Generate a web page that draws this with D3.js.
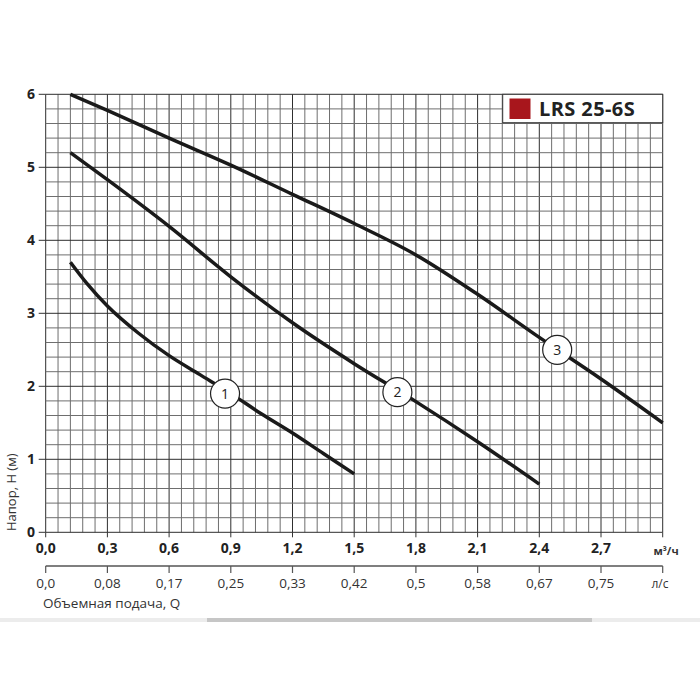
<!DOCTYPE html>
<html>
<head>
<meta charset="utf-8">
<script src="https://cdn.jsdelivr.net/npm/d3@7"></script>
<style>
  body { margin: 0; background: #fff; }
  text { font-family: "Open Sans", "Noto Sans", sans-serif; }
</style>
</head>
<body>
<div id="chart"></div>
<script>
// pump curves LRS 25-6S, Q in m3/h, H in m
var curve1Q = [0.12, 0.2, 0.3, 0.45, 0.6, 0.75, 0.9, 1.05, 1.2, 1.35, 1.5];
var curve1H = [3.7, 3.41, 3.1, 2.73, 2.42, 2.16, 1.9, 1.62, 1.36, 1.08, 0.8];
var curve2Q = [0.12, 0.3, 0.6, 0.9, 1.2, 1.5, 1.8, 2.1, 2.4];
var curve2H = [5.2, 4.83, 4.19, 3.5, 2.87, 2.31, 1.79, 1.24, 0.66];
var curve3Q = [0.12, 0.3, 0.6, 0.9, 1.2, 1.5, 1.8, 2.1, 2.4, 2.7, 3.0];
var curve3H = [6.0, 5.78, 5.4, 5.03, 4.63, 4.23, 3.8, 3.26, 2.67, 2.1, 1.5];

// numbered circle labels on curves
var labelNames = ["1", "2", "3"];
var labelQ = [0.872, 1.71, 2.487];
var labelH = [1.9, 1.92, 2.5];

var m3hTicks = [0, 0.3, 0.6, 0.9, 1.2, 1.5, 1.8, 2.1, 2.4, 2.7];
var lsLabels = ["0,0", "0,08", "0,17", "0,25", "0,33", "0,42", "0,5", "0,58", "0,67", "0,75"];
var hTicks = [0, 1, 2, 3, 4, 5, 6];
var modelName = "LRS 25-6S";

var width = 700, height = 700;

var svg = d3.select("#chart")
    .append("svg")
    .attr("width", width)
    .attr("height", height);

var x = d3.scaleLinear().domain([0, 3]).range([45.7, 662.7]);
var y = d3.scaleLinear().domain([0, 6]).range([532.3, 94.3]);

// grid - minor lines every 0.06 m3/h and 0.2 m
var minorX = d3.range(0, 51).map(d => d * 0.06);
var minorY = d3.range(0, 31).map(d => d * 0.2);

var grid = svg.append("g");
grid.selectAll(".vx")
    .data(minorX)
    .enter().append("line")
    .attr("x1", d => x(d)).attr("x2", d => x(d))
    .attr("y1", y(6)).attr("y2", y(0))
    .attr("stroke", d => Math.abs(d / 0.3 - Math.round(d / 0.3)) < 1e-6 ? "#2e2e2e" : "#6e6e6e")
    .attr("stroke-width", 1);
grid.selectAll(".hy")
    .data(minorY)
    .enter().append("line")
    .attr("x1", x(0)).attr("x2", x(3))
    .attr("y1", d => y(d)).attr("y2", d => y(d))
    .attr("stroke", d => Math.abs(d - Math.round(d)) < 1e-6 ? "#2e2e2e" : "#6e6e6e")
    .attr("stroke-width", 1);

// y axis ticks and labels
svg.selectAll(".ytick")
    .data(hTicks)
    .enter().append("line")
    .attr("x1", x(0) - 7).attr("x2", x(0))
    .attr("y1", d => y(d)).attr("y2", d => y(d))
    .attr("stroke", "#333");
svg.selectAll(".ylab")
    .data(hTicks)
    .enter().append("text")
    .attr("x", 35)
    .attr("y", d => y(d) + 5)
    .attr("text-anchor", "end")
    .attr("font-size", 14)
    .attr("font-weight", "bold")
    .attr("fill", "#222")
    .text(d => d);

svg.append("text")
    .attr("transform", "translate(16,531) rotate(-90)")
    .attr("font-size", 13)
    .attr("fill", "#333")
    .text("Напор, Н (м)");

// main x axis (m3/h)
svg.selectAll(".xtick")
    .data(m3hTicks.concat([3]))
    .enter().append("line")
    .attr("x1", d => x(d)).attr("x2", d => x(d))
    .attr("y1", y(0)).attr("y2", y(0) + 5)
    .attr("stroke", "#333");
svg.selectAll(".xlab")
    .data(m3hTicks)
    .enter().append("text")
    .attr("x", d => x(d))
    .attr("y", 553)
    .attr("text-anchor", "middle")
    .attr("font-size", 14)
    .attr("font-weight", "bold")
    .attr("fill", "#222")
    .text(d => d3.format(".1f")(d).replace(".", ","));
svg.append("text")
    .attr("x", 666).attr("y", 555)
    .attr("text-anchor", "middle")
    .attr("font-size", 11)
    .attr("font-weight", "bold")
    .attr("fill", "#333")
    .text("м³/ч");

// second axis (l/s)
var axis2Y = 566;
svg.append("line")
    .attr("x1", x(0)).attr("x2", x(3))
    .attr("y1", axis2Y).attr("y2", axis2Y)
    .attr("stroke", "#555")
    .attr("stroke-width", 1.5);
svg.selectAll(".x2tick")
    .data(m3hTicks.concat([3]))
    .enter().append("line")
    .attr("x1", d => x(d)).attr("x2", d => x(d))
    .attr("y1", axis2Y).attr("y2", axis2Y + 7)
    .attr("stroke", "#555")
    .attr("stroke-width", 1.2);
svg.selectAll(".x2lab")
    .data(lsLabels)
    .enter().append("text")
    .attr("x", (d, i) => x(m3hTicks[i]))
    .attr("y", 588)
    .attr("text-anchor", "middle")
    .attr("font-size", 13.5)
    .attr("fill", "#333")
    .text(d => d);
svg.append("text")
    .attr("x", 660).attr("y", 588)
    .attr("text-anchor", "middle")
    .attr("font-size", 12)
    .attr("fill", "#333")
    .text("л/с");
svg.append("text")
    .attr("x", 43).attr("y", 608)
    .attr("font-size", 13.5)
    .attr("fill", "#333")
    .text("Объемная подача, Q");

// curves
var line = d3.line()
    .x(d => x(d[0]))
    .y(d => y(d[1]))
    .curve(d3.curveMonotoneX);

var curves = [
    d3.zip(curve1Q, curve1H),
    d3.zip(curve2Q, curve2H),
    d3.zip(curve3Q, curve3H)
];

svg.selectAll(".curve")
    .data(curves)
    .enter().append("path")
    .attr("fill", "none")
    .attr("stroke", "#1a1a1a")
    .attr("stroke-width", 3.5)
    .attr("d", line);

// circle labels
var lab = svg.selectAll(".lab")
    .data(labelNames)
    .enter().append("g")
    .attr("transform", (d, i) => `translate(${x(labelQ[i])},${y(labelH[i])})`);
lab.append("circle")
    .attr("r", 14.5)
    .attr("fill", "#fff")
    .attr("stroke", "#222")
    .attr("stroke-width", 1.2);
lab.append("text")
    .attr("y", 5)
    .attr("text-anchor", "middle")
    .attr("font-size", 14)
    .attr("fill", "#222")
    .text(d => d);

// legend box
svg.append("rect")
    .attr("x", 502.7).attr("y", y(6))
    .attr("width", x(3) - 502.7).attr("height", 28.4)
    .attr("fill", "#fff")
    .attr("stroke", "#333")
    .attr("stroke-width", 1);
svg.append("rect")
    .attr("x", 509.5).attr("y", 98.5)
    .attr("width", 21).attr("height", 20.5)
    .attr("fill", "#a8161c");
svg.append("text")
    .attr("x", 539).attr("y", 115.5)
    .attr("font-size", 20)
    .attr("font-weight", "bold")
    .attr("letter-spacing", 0.4)
    .attr("fill", "#222")
    .text(modelName);

// bottom strip
svg.append("rect")
    .attr("x", 0).attr("y", 618).attr("width", width).attr("height", 4)
    .attr("fill", "#ececec");
svg.append("rect")
    .attr("x", 207).attr("y", 618).attr("width", 385).attr("height", 4)
    .attr("fill", "#c6c6c6");
</script>
</body>
</html>
